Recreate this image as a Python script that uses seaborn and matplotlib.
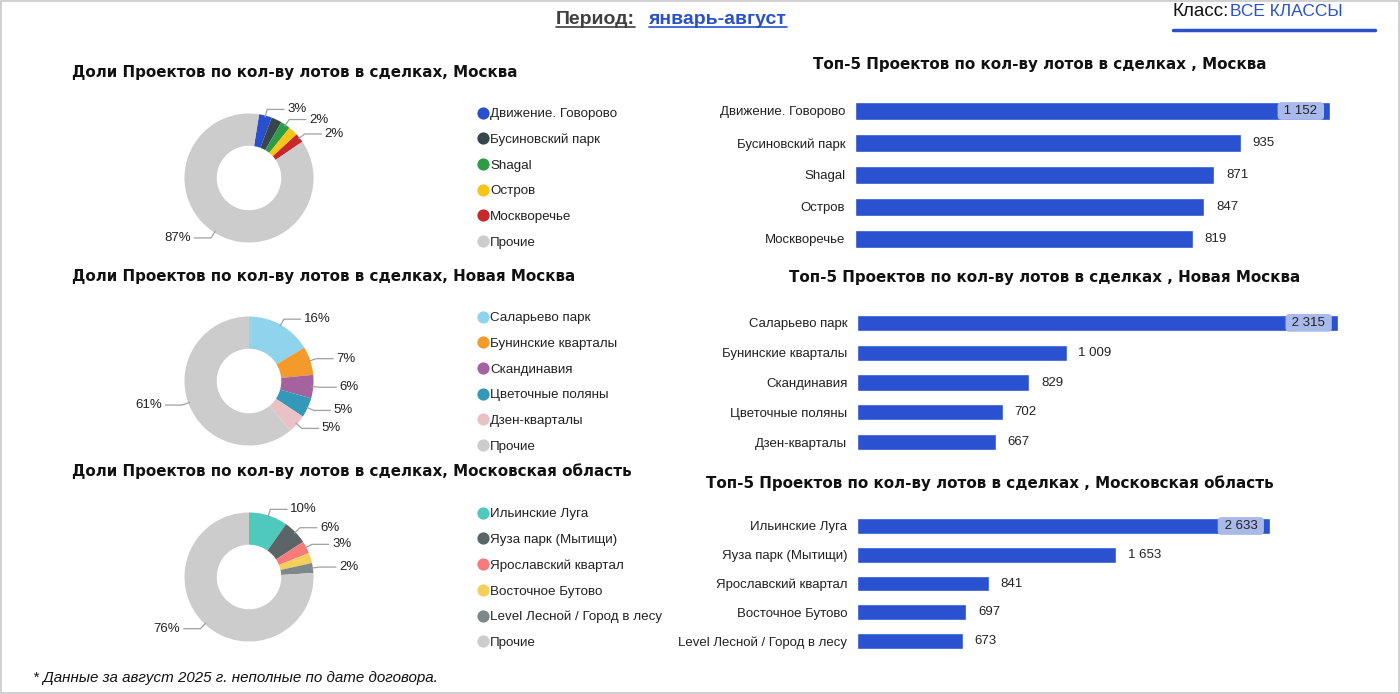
import numpy as np
import matplotlib
matplotlib.use("Agg")
import matplotlib.pyplot as plt
from matplotlib.lines import Line2D
from matplotlib.patches import Rectangle
import seaborn as sns

# ---------------- data ----------------
period_label = "Период:"
period_value = "январь-август"
class_label = "Класс:"
class_value = "ВСЕ КЛАССЫ"
footnote = "* Данные за август 2025 г. неполные по дате договора."

moscow_names = ["Движение. Говорово", "Бусиновский парк", "Shagal", "Остров", "Москворечье"]
moscow_values = [1152, 935, 871, 847, 819]
moscow_other = 30950
moscow_colors = ["#2a4fcc", "#37454d", "#2e9c47", "#f5c518", "#c9282a", "#cccccc"]
moscow_show = [True, False, True, False, True, True]

nm_names = ["Саларьево парк", "Бунинские кварталы", "Скандинавия", "Цветочные поляны", "Дзен-кварталы"]
nm_values = [2315, 1009, 829, 702, 667]
nm_other = 8640
nm_colors = ["#8fd4ec", "#f39a2b", "#a4629f", "#3498b9", "#e9c2c5", "#cccccc"]
nm_show = [True, True, True, True, True, True]

mo_names = ["Ильинские Луга", "Яуза парк (Мытищи)", "Ярославский квартал", "Восточное Бутово",
            "Level Лесной / Город в лесу"]
mo_values = [2633, 1653, 841, 697, 673]
mo_other = 20570
mo_colors = ["#4ec9bc", "#5b6467", "#f77b7b", "#f5cf59", "#7e888a", "#cccccc"]
mo_show = [True, True, True, False, True, True]

other_name = "Прочие"

pie_titles = ["Доли Проектов по кол-ву лотов в сделках, Москва",
              "Доли Проектов по кол-ву лотов в сделках, Новая Москва",
              "Доли Проектов по кол-ву лотов в сделках, Московская область"]
bar_titles = ["Топ-5 Проектов по кол-ву лотов в сделках , Москва",
              "Топ-5 Проектов по кол-ву лотов в сделках , Новая Москва",
              "Топ-5 Проектов по кол-ву лотов в сделках , Московская область"]

# ---------------- style ----------------
sns.set_theme(style="white")
plt.rcParams["font.family"] = ["Liberation Sans", "DejaVu Sans"]

W, H = 1400, 694
fig = plt.figure(figsize=(W / 100, H / 100), dpi=100)
fig.patch.set_facecolor("white")

BAR_COLOR = "#2a52d0"
TXT = "#222222"


def fx(px):
    return px / W


def fy(py):
    return 1 - py / H


def add_ax(left, top, width, height):
    return fig.add_axes([fx(left), fy(top + height), width / W, height / H])


# border
fig.add_artist(Rectangle((0.0005, 0.001), 0.999, 0.998, transform=fig.transFigure,
                         fill=False, ec="#c8c8c8", lw=1.2))


def draw_donut(cx, cy, names, values, other, colors, show, start_offset, legend_top):
    size = 200
    ax = add_ax(cx - size / 2, cy - size / 2, size, size)
    vals = list(values) + [other]
    labels = list(names) + [other_name]
    ax.pie(vals, colors=colors, startangle=90 - start_offset, counterclock=False,
           wedgeprops=dict(width=0.5, edgecolor="none"), radius=1.0)
    ax.set_xlim(-1.55, 1.55)
    ax.set_ylim(-1.55, 1.55)
    ax.set_aspect("equal")
    ax.axis("off")
    total = sum(vals)
    cum = start_offset
    for v, s in zip(vals, show):
        ang = v / total * 360
        mid = np.deg2rad(cum + ang / 2)
        cum += ang
        if not s:
            continue
        sx, sy = np.sin(mid), np.cos(mid)
        p0 = (sx * 0.98, sy * 0.98)
        p1 = (sx * 1.1, sy * 1.1)
        side = 1 if sx >= 0 else -1
        p2 = (p1[0] + side * 0.26, p1[1])
        ax.plot([p0[0], p1[0], p2[0]], [p0[1], p1[1], p2[1]], color="#a0a0a0", lw=0.9,
                clip_on=False)
        pct = f"{round(v / total * 100):d}%"
        ax.text(p2[0] + side * 0.05, p2[1], pct, ha="left" if side > 0 else "right",
                va="center", fontsize=9.5, color=TXT, clip_on=False)
    handles = [Line2D([0], [0], marker="o", linestyle="none", markersize=8.8,
                      markerfacecolor=c, markeredgecolor="none") for c in colors]
    fig.legend(handles, labels, loc="upper left",
               bbox_to_anchor=(fx(478), fy(legend_top)), bbox_transform=fig.transFigure,
               frameon=False, fontsize=9.6, handlelength=0.7, handletextpad=0.22,
               labelspacing=1.0, borderpad=0, borderaxespad=0, labelcolor=TXT)
    return ax


draw_donut(249, 178, moscow_names, moscow_values, moscow_other, moscow_colors, moscow_show, 9, 108)
draw_donut(249, 381, nm_names, nm_values, nm_other, nm_colors, nm_show, 0, 312)
draw_donut(249, 577, mo_names, mo_values, mo_other, mo_colors, mo_show, 0, 508)


def fmt(v):
    return f"{v:,}".replace(",", " ")


def draw_bars(left, top, width, height, names, values, xmax):
    ax = add_ax(left, top, width, height)
    sns.barplot(x=values, y=names, orient="h", color=BAR_COLOR, saturation=1,
                width=0.55, ax=ax)
    ax.set_xlim(0, xmax)
    ax.set_ylim(len(values) - 0.5, -0.5)
    for sp in ax.spines.values():
        sp.set_visible(False)
    ax.set_xticks([])
    ax.set_xlabel("")
    ax.set_ylabel("")
    ax.tick_params(axis="y", length=0, pad=7, labelsize=9.5, labelcolor=TXT)
    vmax = max(values)
    for i, v in enumerate(values):
        if v == vmax:
            ax.annotate(" " + fmt(v) + " ", (v, i), xytext=(-6.5, 0), textcoords="offset points",
                        ha="right", va="center", fontsize=9.5, color=TXT,
                        bbox=dict(boxstyle="round,pad=0.22,rounding_size=0.3",
                                  fc="#a9b9ea", ec="none"))
        else:
            ax.annotate(fmt(v), (v, i), xytext=(8.5, 0), textcoords="offset points",
                        ha="left", va="center", fontsize=9.5, color=TXT)
    return ax


draw_bars(855, 95, 490, 160, moscow_names, moscow_values, 1188)
draw_bars(857, 308, 488, 149, nm_names, nm_values, 2349)
draw_bars(857, 511.6, 488, 143.8, mo_names, mo_values, 3111)

# titles
TFONT = ["DejaVu Sans"]
for t, y in zip(pie_titles, [72, 276, 471]):
    fig.text(fx(72), fy(y), t, ha="left", va="center", fontsize=10.9,
             fontweight="bold", family=TFONT, color="#111111")
for t, x, y in zip(bar_titles, [1040, 1045, 990], [64, 278, 483]):
    fig.text(fx(x), fy(y), t, ha="center", va="center", fontsize=10.9,
             fontweight="bold", family=TFONT, color="#111111")

# header
renderer = fig.canvas.get_renderer()


def underline(txt, color, lw=1.2, dy=2):
    bb = txt.get_window_extent(renderer=renderer)
    y = bb.y0 + dy
    fig.add_artist(Line2D([bb.x0 / W, bb.x1 / W], [y / H, y / H], transform=fig.transFigure,
                          color=color, lw=lw))


t1 = fig.text(fx(556), fy(20), period_label, ha="left", va="center", fontsize=14,
              fontweight="bold", color="#404040")
underline(t1, "#404040")
t2 = fig.text(fx(649), fy(20), period_value, ha="left", va="center", fontsize=14,
              fontweight="bold", color="#2a52c8")
underline(t2, "#2a52c8")

t3 = fig.text(fx(1173), fy(12), class_label, ha="left", va="center", fontsize=13.5,
              color="#111111")
bb3 = t3.get_window_extent(renderer=renderer)
fig.text(bb3.x1 / W + 1 / W, fy(12), class_value, ha="left", va="center", fontsize=12.5,
         color="#2a52c8")
fig.add_artist(Line2D([fx(1173), fx(1375)], [fy(30), fy(30)], transform=fig.transFigure,
                      color="#2a52c8", lw=2.5))

fig.text(fx(33), fy(678), footnote, ha="left", va="center", fontsize=10.9,
         style="italic", color="#111111")

fig.savefig("out.png", dpi=100, facecolor="white")
